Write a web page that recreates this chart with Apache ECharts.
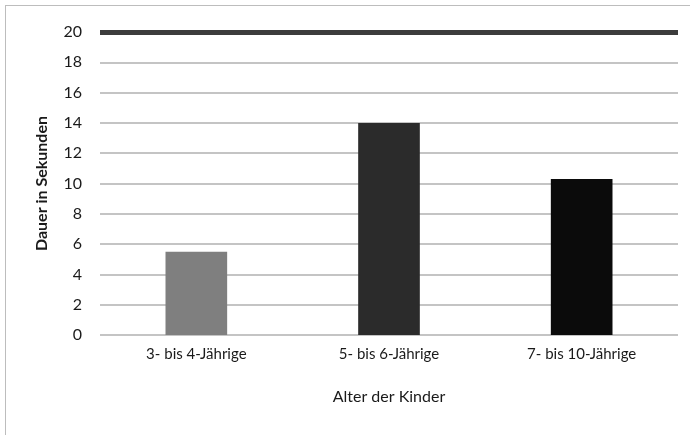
<!DOCTYPE html>
<html>
<head>
<meta charset="utf-8">
<script src="https://cdn.jsdelivr.net/npm/echarts@6/dist/echarts.min.js"></script>
<style>
    html, body { margin: 0; padding: 0; background: #fff; }
    #frame { position: absolute; left: 5px; top: 5px; width: 700px; height: 440px; border: 1px solid #bdbdbd; box-sizing: border-box; }
    #chart { width: 690px; height: 435px; position: absolute; left: 0; top: 0; }
</style>
</head>
<body>
<div id="frame"></div>
<div id="chart"></div>
<script>
var categories = ['3- bis 4-Jährige', '5- bis 6-Jährige', '7- bis 10-Jährige'];
var values = [5.5, 14, 10.3];
var barColors = ['#7f7f7f', '#2b2b2b', '#0b0b0b'];

var myChart = echarts.init(document.getElementById('chart'));
var font = 'Lato, "Open Sans", sans-serif';

var option = {
    animation: false,
    grid: { left: 100, right: 12, top: 32, bottom: 100 },
    xAxis: {
        type: 'category',
        data: categories,
        name: 'Alter der Kinder',
        nameLocation: 'middle',
        nameGap: 54,
        nameTextStyle: { fontFamily: font, fontSize: 16, color: '#1a1a1a' },
        axisLine: { show: false },
        axisTick: { show: false },
        axisLabel: { fontFamily: font, fontSize: 15, color: '#1a1a1a', margin: 12 }
    },
    yAxis: {
        type: 'value',
        min: 0,
        max: 20,
        interval: 2,
        name: 'Dauer in Sekunden',
        nameLocation: 'middle',
        nameGap: 50,
        nameTextStyle: { fontFamily: font, fontSize: 16, fontWeight: 'bold', color: '#1a1a1a' },
        axisLine: { show: false },
        axisTick: { show: false },
        axisLabel: { fontFamily: font, fontSize: 16, color: '#1a1a1a', margin: 18 },
        splitLine: { lineStyle: { color: '#c4c4c4', width: 2 } }
    },
    series: [{
        type: 'bar',
        barWidth: '32%',
        data: values.map(function (v, i) {
            return { value: v, itemStyle: { color: barColors[i] } };
        }),
        markLine: {
            symbol: 'none',
            silent: true,
            label: { show: false },
            lineStyle: { color: '#3c3c3c', width: 5, type: 'solid' },
            data: [{ yAxis: 20 }]
        }
    }]
};

myChart.setOption(option);
window.addEventListener('resize', function () { myChart.resize(); });
</script>
</body>
</html>
